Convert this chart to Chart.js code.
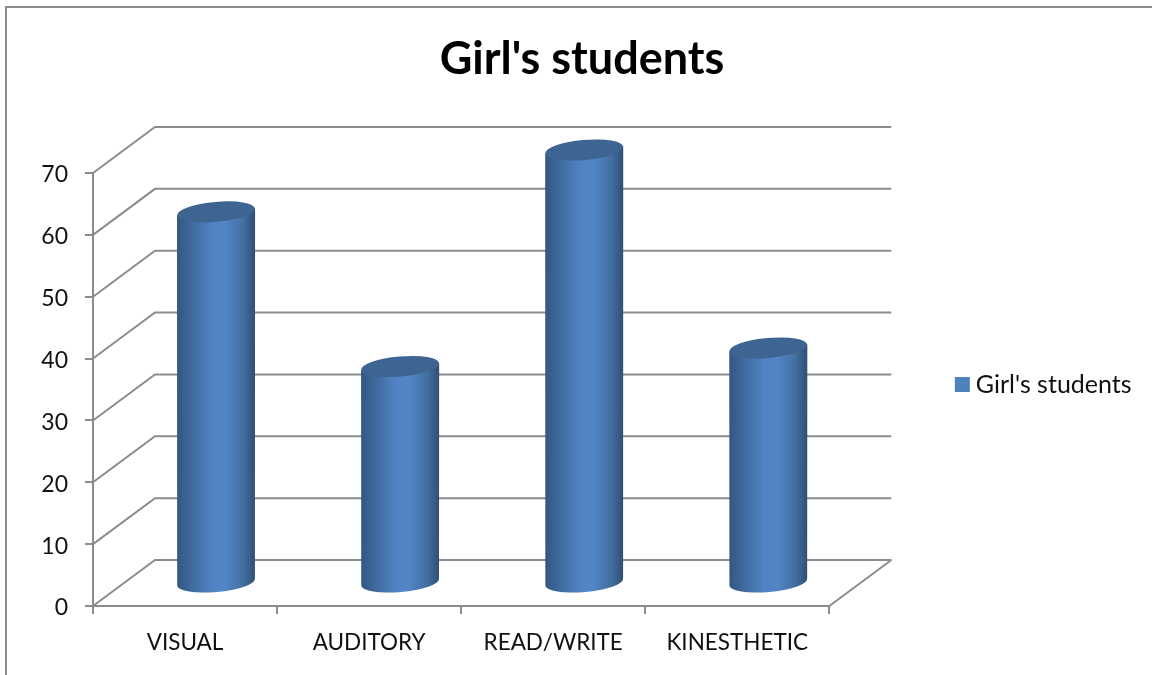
<!DOCTYPE html>
<html>
<head>
<meta charset="utf-8">
<title>Girl's students</title>
<script src="https://cdn.jsdelivr.net/npm/chart.js@4/dist/chart.umd.min.js"></script>
<style>
  body { margin: 0; background: #fff; }
  canvas { display: block; }
</style>
</head>
<body>
<canvas id="chart" width="1152" height="675"></canvas>
<script>
const categories = ['VISUAL', 'AUDITORY', 'READ/WRITE', 'KINESTHETIC'];
const seriesName = "Girl's students";
const seriesValues = [60, 35, 70, 38];
const tickStep = 10;
const tickMax = 70;

const LINE = '#8c8c8c';
const BLUE = '#4f81bd';
const FONT = 'Lato, Carlito, sans-serif';
// how far the back wall sits from the axes
const DEPTH_X = 62;
const DEPTH_Y = 46;
const TILT = -5 * Math.PI / 180;

// outer frame, only top and left edges are visible
const framePlugin = {
  id: 'frame',
  beforeDraw(chart) {
    const ctx = chart.ctx;
    ctx.save();
    ctx.strokeStyle = LINE;
    ctx.lineWidth = 2;
    ctx.beginPath();
    ctx.moveTo(6, chart.height);
    ctx.lineTo(6, 7);
    ctx.lineTo(chart.width, 7);
    ctx.stroke();
    ctx.restore();
  }
};

// legend sits a little above the middle of the plot
const legendNudgePlugin = {
  id: 'legendNudge',
  afterLayout(chart) {
    chart.legend.top -= 5;
    chart.legend.bottom -= 5;
  }
};

// side wall and back wall gridlines, plus the right edge of the floor
const wallPlugin = {
  id: 'walls',
  beforeDatasetsDraw(chart) {
    const { ctx, chartArea, scales } = chart;
    ctx.save();
    ctx.strokeStyle = LINE;
    ctx.lineWidth = 2;
    scales.y.ticks.forEach(t => {
      const y = scales.y.getPixelForValue(t.value);
      ctx.beginPath();
      ctx.moveTo(chartArea.left, y);
      ctx.lineTo(chartArea.left + DEPTH_X, y - DEPTH_Y);
      ctx.lineTo(chartArea.right + DEPTH_X, y - DEPTH_Y);
      ctx.stroke();
    });
    ctx.beginPath();
    ctx.moveTo(chartArea.right, chartArea.bottom);
    ctx.lineTo(chartArea.right + DEPTH_X, chartArea.bottom - DEPTH_Y);
    ctx.stroke();
    ctx.restore();
  }
};

// replaces the flat bars with cylinders standing mid-way into the floor
const cylinderPlugin = {
  id: 'cylinders',
  beforeDatasetDraw(chart, args) {
    const ctx = chart.ctx;
    args.meta.data.forEach(bar => {
      const cx = bar.x + DEPTH_X / 2;
      const top = bar.y - DEPTH_Y / 2;
      const base = bar.base - DEPTH_Y / 2;
      const rx = bar.width / 2;
      const ry = 10;
      const dy = Math.sin(TILT) * rx;

      const grad = ctx.createLinearGradient(cx - rx, 0, cx + rx, 0);
      grad.addColorStop(0, '#335780');
      grad.addColorStop(0.14, '#3c6597');
      grad.addColorStop(0.45, '#5183c4');
      grad.addColorStop(0.62, '#5285c6');
      grad.addColorStop(0.85, '#426e9f');
      grad.addColorStop(1, '#2f4f76');

      ctx.save();
      ctx.fillStyle = grad;
      ctx.beginPath();
      ctx.ellipse(cx, base, rx, ry, TILT, 0, Math.PI);
      ctx.lineTo(cx - rx, top - dy);
      ctx.lineTo(cx + rx, top + dy);
      ctx.closePath();
      ctx.fill();

      ctx.fillStyle = '#3e6592';
      ctx.beginPath();
      ctx.ellipse(cx, top, rx, ry, TILT, 0, Math.PI * 2);
      ctx.fill();
      ctx.restore();
    });
    return false;
  }
};

new Chart(document.getElementById('chart'), {
  type: 'bar',
  plugins: [framePlugin, legendNudgePlugin, wallPlugin, cylinderPlugin],
  data: {
    labels: categories,
    datasets: [{
      label: seriesName,
      data: seriesValues,
      backgroundColor: BLUE,
      borderColor: BLUE,
      borderWidth: 13,
      categoryPercentage: 1,
      barPercentage: 0.424
    }]
  },
  options: {
    responsive: false,
    animation: false,
    layout: { padding: { left: 25, right: 13, top: 0, bottom: 0 } },
    plugins: {
      tooltip: { enabled: false },
      title: {
        display: true,
        text: seriesName,
        color: '#000',
        font: { family: FONT, size: 45, weight: 'bold', lineHeight: 1.2 },
        padding: { top: 32, bottom: 87 }
      },
      legend: {
        position: 'right',
        fullSize: false,
        labels: {
          boxWidth: 2,
          boxHeight: 2,
          padding: 8,
          color: '#111',
          font: { family: FONT, size: 25 }
        }
      }
    },
    scales: {
      x: {
        afterFit: s => { s.height = 69; },
        border: { color: LINE, width: 2 },
        grid: { drawOnChartArea: false, color: LINE, lineWidth: 2, tickLength: 8 },
        ticks: { color: '#111', padding: 15, maxRotation: 0, autoSkip: false, font: { family: FONT, size: 22.5 } }
      },
      y: {
        min: 0,
        max: tickMax,
        afterFit: s => { s.width = 68; },
        border: { color: LINE, width: 2 },
        grid: { drawOnChartArea: false, color: LINE, lineWidth: 2, tickLength: 8 },
        ticks: { stepSize: tickStep, color: '#111', padding: 17, labelOffset: 2, font: { family: FONT, size: 23 } }
      },
      // empty axis that keeps the legend clear of the back wall
      gap: {
        axis: 'y',
        position: 'right',
        afterFit: s => { s.width = 124; },
        border: { display: false },
        grid: { display: false },
        ticks: { display: false }
      }
    }
  }
});
</script>
</body>
</html>
